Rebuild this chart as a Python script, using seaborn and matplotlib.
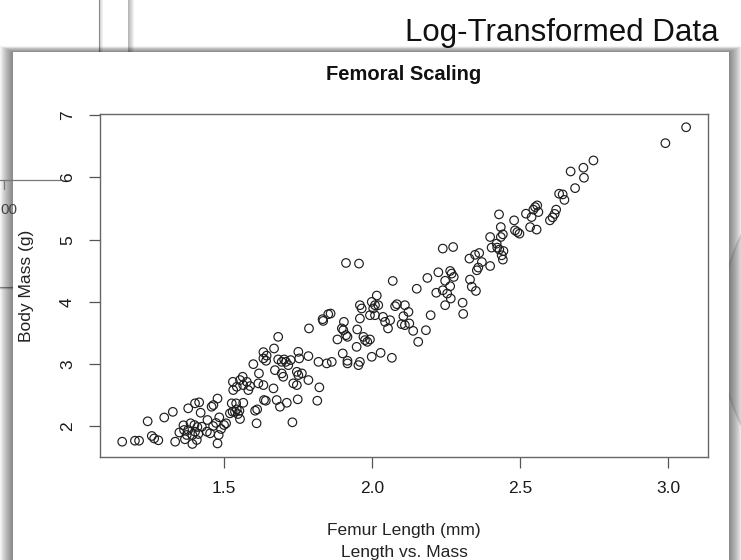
import matplotlib
matplotlib.use("Agg")
import matplotlib.pyplot as plt
from matplotlib.patches import Rectangle, Ellipse
import seaborn as sns

# log femur length (mm) and log body mass (g) for each specimen
femur_length_log = [
    1.156, 1.199, 1.213, 1.242, 1.256, 1.264, 1.278, 1.298, 1.327, 1.335,
    1.349, 1.363, 1.368, 1.374, 1.379, 1.379, 1.387, 1.393, 1.393, 1.400,
    1.402, 1.402, 1.408, 1.413, 1.416, 1.365, 1.410,
    1.421, 1.425, 1.442, 1.444, 1.453, 1.458, 1.464, 1.478, 1.463, 1.473,
    1.482, 1.478, 1.484, 1.490, 1.500, 1.507, 1.520, 1.529, 1.526, 1.541,
    1.543, 1.552, 1.537, 1.547, 1.565, 1.554, 1.605, 1.612, 1.610, 1.635,
    1.530, 1.554, 1.565, 1.543, 1.577, 1.588, 1.616, 1.633, 1.599, 1.618,
    1.633, 1.644, 1.633, 1.642, 1.563, 1.582, 1.531,
    1.641, 1.678, 1.689, 1.712, 1.731, 1.749, 1.815, 1.822, 1.667, 1.746,
    1.734, 1.785, 1.672, 1.695, 1.700, 1.746, 1.751, 1.763, 1.683, 1.695,
    1.703, 1.709, 1.717, 1.725, 1.751, 1.754, 1.785, 1.819, 1.847, 1.683,
    1.669, 1.787, 1.833, 1.835, 1.852, 1.860,
    1.864, 1.883, 1.905, 1.898, 1.903, 1.912, 1.917, 1.901, 1.917, 1.917,
    1.912, 1.956, 1.950, 1.948, 1.959, 1.954, 1.959, 1.965, 1.959, 1.971,
    1.976, 1.993, 1.984, 1.999, 2.029, 2.067, 2.016, 1.999, 2.010, 2.004,
    2.021, 1.993, 2.010, 2.037, 2.044, 2.054, 2.061, 2.070, 2.078, 2.084,
    2.111, 2.123, 2.106, 2.100, 2.111, 2.126, 2.139, 2.156, 2.182, 2.198,
    2.151, 2.187, 2.224, 2.239, 2.274, 2.264, 2.269, 2.276, 2.247, 2.217,
    2.239, 2.254, 2.264, 2.266, 2.247, 2.306, 2.308,
    2.632, 2.644, 2.650, 2.622, 2.601, 2.610, 2.617, 2.558, 2.551, 2.545,
    2.562, 2.539, 2.520, 2.480, 2.534, 2.556, 2.483, 2.491, 2.498, 2.429,
    2.435, 2.442, 2.435, 2.399, 2.421, 2.423, 2.430, 2.444, 2.438, 2.442,
    2.404, 2.362, 2.348, 2.329, 2.371, 2.354, 2.359, 2.399, 2.331, 2.337,
    2.351,
    3.061, 2.991, 2.748, 2.714, 2.671, 2.716, 2.686,
]
body_mass_log = [
    1.751, 1.767, 1.767, 2.079, 1.843, 1.803, 1.774, 2.140, 2.231, 1.751,
    1.899, 2.015, 1.790, 1.859, 2.288, 1.939, 2.047, 1.859, 1.715, 2.019,
    2.368, 1.912, 1.779, 1.875, 2.384, 1.939, 1.987,
    2.217, 1.992, 1.912, 2.100, 1.886, 2.313, 2.340, 2.445, 2.003, 2.052,
    1.859, 1.723, 2.143, 1.955, 2.019, 2.047, 2.207, 2.233, 2.368, 2.368,
    2.271, 2.249, 2.233, 2.196, 2.377, 2.116, 2.249, 2.271, 2.047, 2.421,
    2.714, 2.742, 2.661, 2.634, 2.714, 2.645, 2.689, 2.661, 2.998, 2.849,
    3.191, 3.135, 3.090, 3.052, 2.795, 2.581, 2.581,
    2.410, 2.421, 2.313, 2.377, 2.063, 2.432, 2.410, 2.625, 2.608, 2.661,
    2.689, 2.742, 2.902, 2.849, 2.795, 2.875, 2.822, 2.849, 3.074, 3.035,
    3.074, 3.035, 2.982, 3.063, 3.196, 3.090, 3.127, 3.035, 3.010, 3.437,
    3.250, 3.572, 3.721, 3.693, 3.801, 3.812,
    3.035, 3.395, 3.678, 3.572, 3.544, 3.464, 3.437, 3.170, 3.052, 3.010,
    4.625, 4.615, 3.556, 3.276, 3.035, 2.982, 3.946, 3.893, 3.732, 3.437,
    3.384, 3.395, 3.357, 3.116, 3.180, 3.100, 4.101, 3.999, 3.946, 3.893,
    3.946, 3.785, 3.785, 3.758, 3.678, 3.572, 3.705, 4.336, 3.930, 3.962,
    3.946, 3.838, 3.769, 3.641, 3.625, 3.652, 3.533, 3.357, 3.544, 3.785,
    4.210, 4.384, 4.475, 4.856, 4.881, 4.496, 4.454, 4.400, 4.339, 4.146,
    4.186, 4.133, 4.251, 4.053, 3.946, 3.986, 3.806,
    5.738, 5.727, 5.639, 5.482, 5.310, 5.358, 5.414, 5.551, 5.523, 5.482,
    5.443, 5.363, 5.417, 5.310, 5.202, 5.161, 5.149, 5.122, 5.096, 5.406,
    5.202, 5.085, 5.042, 5.042, 4.936, 4.872, 4.840, 4.817, 4.748, 4.679,
    4.872, 4.785, 4.756, 4.695, 4.640, 4.507, 4.551, 4.576, 4.358, 4.243,
    4.175,
    6.807, 6.551, 6.273, 6.156, 6.096, 5.995, 5.828,
]
x_ticks = [1.5, 2.0, 2.5, 3.0]
x_tick_labels = ["1.5", "2.0", "2.5", "3.0"]
y_ticks = [2, 3, 4, 5, 6, 7]
y_tick_labels = ["2", "3", "4", "5", "6", "7"]

W, H = 741, 560
sns.set_theme(style="white")
plt.rcParams["font.family"] = ["Liberation Sans", "DejaVu Sans"]

fig = plt.figure(figsize=(W / 100, H / 100), dpi=100)
fig.patch.set_facecolor("white")

# slide backdrop, laid out in pixel units
bg = fig.add_axes([0, 0, 1, 1], zorder=0)
bg.set_xlim(0, W)
bg.set_ylim(H, 0)
bg.axis("off")


def card(x0, y0, x1, y1, spread=10, strength=0.035, edge=None):
    for i in range(spread, 0, -1):
        bg.add_patch(Rectangle((x0 - i * 1.0, y0 - i * 0.45),
                               (x1 - x0) + 2 * i * 1.0, (y1 - y0) + i * 0.9,
                               fc="black", alpha=strength, lw=0))
    bg.add_patch(Rectangle((x0, y0), x1 - x0, y1 - y0, fc="white",
                           ec=edge if edge else "none", lw=0.8))


# faint round shape far right, behind everything
bg.add_patch(Ellipse((815, 330), 190, 300, fc="#ececec", ec="#dadada", lw=1.5))

# earlier cards stacked behind
card(-60, -60, 128, 287, spread=6, strength=0.05)
card(-60, -60, 99, 287, spread=4, strength=0.05, edge="#8a8a8a")
bg.plot([-10, 60], [180, 180], color="#777777", lw=0.9)
bg.plot([4, 4], [180, 189], color="#777777", lw=0.9)
bg.text(0, 210, "00", ha="left", va="center", fontsize=11, color="#444444")

# slide heading
bg.text(719, 33, "Log-Transformed Data", ha="right", va="center",
        fontsize=22.5, color="#111111")

# front card holding the chart
card(13, 52, 729, 700, spread=13, strength=0.045)

# chart labels
bg.text(404, 75, "Femoral Scaling", ha="center", va="center",
        fontsize=14.5, fontweight="bold", color="#111111")
bg.text(404, 531, "Femur Length (mm)", ha="center", va="center",
        fontsize=12.5, color="#222222")
bg.text(404, 553, "Length vs. Mass", ha="center", va="center",
        fontsize=12.5, color="#222222")
bg.text(26, 286, "Body Mass (g)", ha="center", va="center", rotation=90,
        fontsize=12.5, color="#222222")

# scatter panel
left, right, top, bottom = 100, 708, 114, 457
ax = fig.add_axes([left / W, 1 - bottom / H, (right - left) / W, (bottom - top) / H],
                  zorder=2)
ax.set_facecolor("none")
sns.scatterplot(x=femur_length_log, y=body_mass_log, ax=ax, marker="o", s=38,
                facecolor="none", edgecolor="#1e1e1e", linewidth=0.85, legend=False)
ax.set_xlim(1.081, 3.135)
ax.set_ylim(1.505, 7.02)
ax.set_xticks(x_ticks)
ax.set_xticklabels(x_tick_labels)
ax.set_yticks(y_ticks)
ax.set_yticklabels(y_tick_labels, rotation=90, va="center")
ax.tick_params(axis="both", direction="out", length=8, width=0.9, colors="#555555",
               labelcolor="#1a1a1a", labelsize=12.5, bottom=True, left=True)
ax.tick_params(axis="x", pad=9)
ax.tick_params(axis="y", pad=10)
ax.set_xlabel("")
ax.set_ylabel("")
for sp in ax.spines.values():
    sp.set_visible(True)
    sp.set_color("#666666")
    sp.set_linewidth(1.0)

fig.savefig("out.png", dpi=100)
